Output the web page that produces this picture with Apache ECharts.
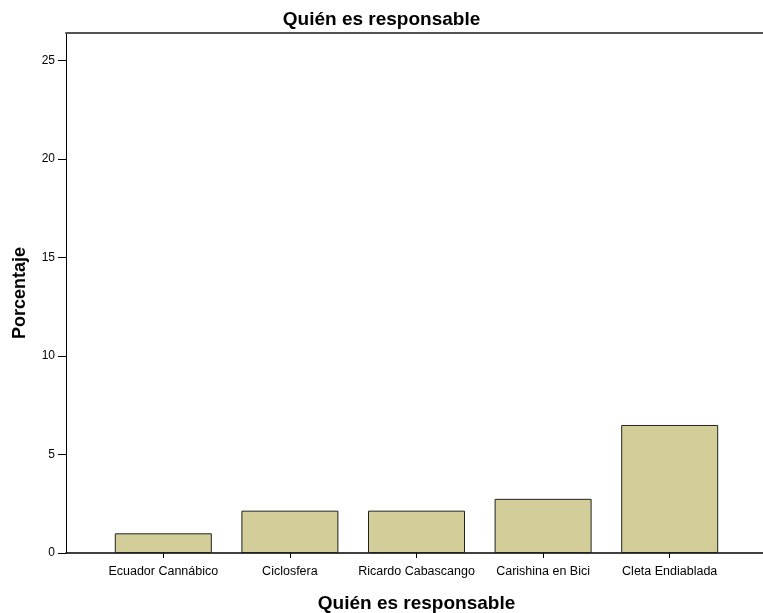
<!DOCTYPE html>
<html>
<head>
<meta charset="utf-8">
<script src="https://cdn.jsdelivr.net/npm/echarts@6/dist/echarts.min.js"></script>
<style>html,body{margin:0;padding:0;background:#fff}#c{width:763px;height:613px}</style>
</head>
<body>
<div id="c"></div>
<script>
const categories = ['Ecuador Cannábico', 'Ciclosfera', 'Ricardo Cabascango', 'Carishina en Bici', 'Cleta Endiablada'];
const values = [1.0, 2.15, 2.15, 2.75, 6.5];
const yTicks = [0, 5, 10, 15, 20, 25];
const titleText = 'Quién es responsable';
const yName = 'Porcentaje';
const xName = 'Quién es responsable';

const FONT = '"Liberation Sans", Arial, sans-serif';
const chart = echarts.init(document.getElementById('c'), null, {renderer: 'canvas'});
const yMax = 26.4;
chart.setOption({
  backgroundColor: '#fff',
  animation: false,
  title: {
    text: titleText, left: 'center', top: 5,
    textStyle: {fontFamily: FONT, fontSize: 19, fontWeight: 'bold', color: '#000'}
  },
  grid: [
    {left: 66, right: 0, top: 33, bottom: 60, outerBoundsMode: 'none', containLabel: false},
    {left: 100, right: 30, top: 33, bottom: 60, outerBoundsMode: 'none', containLabel: false}
  ],
  xAxis: [
    {type: 'value', gridIndex: 0, min: 0, max: 1, position: 'bottom',
     axisLine: {show: true, lineStyle: {color: '#000', width: 1.5}},
     axisTick: {show: false}, axisLabel: {show: false}, splitLine: {show: false}},
    {type: 'value', gridIndex: 0, min: 0, max: 1, position: 'top',
     axisLine: {show: true, lineStyle: {color: '#555', width: 2}},
     axisTick: {show: false}, axisLabel: {show: false}, splitLine: {show: false}},
    {type: 'category', gridIndex: 1, data: categories,
     axisLine: {show: false},
     axisTick: {show: true, alignWithLabel: true, length: 5, lineStyle: {color: '#000'}},
     axisLabel: {fontFamily: FONT, fontSize: 12.5, color: '#000', margin: 12, interval: 0},
     name: xName, nameLocation: 'middle', nameGap: 41,
     nameTextStyle: {fontFamily: FONT, fontSize: 19, fontWeight: 'bold', color: '#000'}}
  ],
  yAxis: [
    {type: 'value', gridIndex: 0, min: 0, max: yMax, interval: 5,
     axisLine: {show: true, lineStyle: {color: '#000', width: 1}},
     axisTick: {show: true, length: 8, customValues: yTicks, lineStyle: {color: '#000'}},
     axisLabel: {fontFamily: FONT, fontSize: 12, color: '#000', margin: 11, customValues: yTicks,
       formatter: v => String(v)},
     splitLine: {show: false},
     name: yName, nameLocation: 'middle', nameGap: 37, nameRotate: 90,
     nameTextStyle: {fontFamily: FONT, fontSize: 18, fontWeight: 'bold', color: '#000'}},
    {type: 'value', gridIndex: 1, min: 0, max: yMax, show: false}
  ],
  series: [{
    type: 'bar', xAxisIndex: 2, yAxisIndex: 1, data: values, barWidth: 97,
    itemStyle: {color: '#d3ce99', borderColor: '#222', borderWidth: 1}
  }]
});
</script>
</body>
</html>
